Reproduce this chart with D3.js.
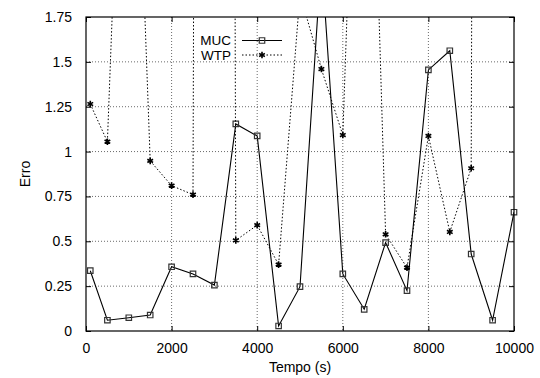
<!DOCTYPE html>
<html>
<head>
<meta charset="utf-8">
<script src="https://cdn.jsdelivr.net/npm/d3@7"></script>
<style>
  body { margin: 0; background: #fff; }
  text { font-family: "Liberation Sans", Arial, sans-serif; font-size: 14px; fill: #000; }
</style>
</head>
<body>
<svg id="chart" width="540" height="378"></svg>
<script>
// dados
var tempo = [100, 500, 1000, 1500, 2000, 2500, 3000, 3500, 4000, 4500, 5000,
             5500, 6000, 6500, 7000, 7500, 8000, 8500, 9000, 9500, 10000];
var erroMUC = [0.336, 0.06, 0.074, 0.089, 0.358, 0.318, 0.256, 1.154, 1.087, 0.028, 0.247,
               2.08, 0.318, 0.121, 0.493, 0.225, 1.455, 1.562, 0.429, 0.06, 0.662];
var erroWTP = [1.265, 1.055, 4.2, 0.948, 0.81, 0.76, 40, 0.505, 0.59, 0.37, 1.88,
               1.46, 1.092, 4.5, 0.539, 0.353, 1.087, 0.552, 0.907, 40, 40];
var xTicks = [0, 2000, 4000, 6000, 8000, 10000];
var yTicks = [0, 0.25, 0.5, 0.75, 1, 1.25, 1.5, 1.75];
var series = [
    { nome: 'MUC', valores: erroMUC, tracejado: null, marca: 'quadrado' },
    { nome: 'WTP', valores: erroWTP, tracejado: '1.5,2', marca: 'estrela' }
];

var margem = { top: 17, right: 26, bottom: 47, left: 86 };
var largura = 540 - margem.left - margem.right,
    altura = 378 - margem.top - margem.bottom;

var svg = d3.select('#chart');
var g = svg.append('g').attr('transform', 'translate(' + margem.left + ',' + margem.top + ')');

// escalas
var x = d3.scaleLinear().domain([0, 10000]).range([0, largura]);
var y = d3.scaleLinear().domain([0, 1.75]).range([altura, 0]);

g.append('clipPath').attr('id', 'recorte')
    .append('rect').attr('width', largura).attr('height', altura);

// grade pontilhada
g.append('g').selectAll('line')
    .data(xTicks.slice(1, -1))
    .enter().append('line')
    .attr('x1', function(d) { return x(d); }).attr('x2', function(d) { return x(d); })
    .attr('y1', 0).attr('y2', altura)
    .attr('stroke', '#444').attr('stroke-width', 0.8).attr('stroke-dasharray', '1,2');
g.append('g').selectAll('line')
    .data(yTicks.slice(1, -1))
    .enter().append('line')
    .attr('x1', 0).attr('x2', largura)
    .attr('y1', function(d) { return y(d); }).attr('y2', function(d) { return y(d); })
    .attr('stroke', '#444').attr('stroke-width', 0.8).attr('stroke-dasharray', '1,2');

// eixos (marcas para dentro)
var eixoX = d3.axisBottom(x).tickValues(xTicks).tickSize(-5).tickPadding(12).tickFormat(d3.format('d'));
var eixoY = d3.axisLeft(y).tickValues(yTicks).tickSize(-5).tickPadding(14)
    .tickFormat(function(d) { return String(d); });
var gx = g.append('g').attr('transform', 'translate(0,' + altura + ')').call(eixoX);
var gy = g.append('g').call(eixoY);
g.append('g').call(d3.axisTop(x).tickValues(xTicks).tickSize(-5).tickFormat(''));
g.append('g').attr('transform', 'translate(' + largura + ',0)')
    .call(d3.axisRight(y).tickValues(yTicks).tickSize(-5).tickFormat(''));
g.selectAll('.domain').remove();
g.selectAll('.tick line').attr('stroke', '#000');
gx.selectAll('text').style('font-size', '14px').style('font-family', 'Liberation Sans, Arial, sans-serif');
gy.selectAll('text').style('font-size', '14px').style('font-family', 'Liberation Sans, Arial, sans-serif');

// linhas
var linha = d3.line()
    .x(function(d) { return x(d[0]); })
    .y(function(d) { return y(d[1]); });

var simbolo = {
    quadrado: d3.symbol().type(d3.symbolSquare).size(30),
    estrela: d3.symbol().type(d3.symbolAsterisk).size(30)
};

series.forEach(function(s) {
    var pontos = tempo.map(function(t, i) { return [t, s.valores[i]]; });
    g.append('path')
        .datum(pontos)
        .attr('clip-path', 'url(#recorte)')
        .attr('fill', 'none')
        .attr('stroke', '#000')
        .attr('stroke-width', s.tracejado ? 1 : 1.1)
        .attr('stroke-dasharray', s.tracejado)
        .attr('d', linha);
    g.append('g').selectAll('path')
        .data(pontos.filter(function(p) { return p[1] <= 1.75; }))
        .enter().append('path')
        .attr('transform', function(d) { return 'translate(' + x(d[0]) + ',' + y(d[1]) + ')'; })
        .attr('d', simbolo[s.marca])
        .attr('fill', s.marca === 'quadrado' ? 'none' : '#000')
        .attr('stroke', s.marca === 'quadrado' ? '#333' : '#000')
        .attr('stroke-width', s.marca === 'quadrado' ? 1.2 : 1.6);
});

// legenda
var legenda = g.append('g');
series.forEach(function(s, i) {
    var ly = 23.5 + i * 14.5;
    legenda.append('text').attr('x', 145).attr('y', ly + 4.5)
        .attr('text-anchor', 'end').style('font-size', '13.5px').text(s.nome);
    legenda.append('line').attr('x1', 156).attr('x2', 196).attr('y1', ly).attr('y2', ly)
        .attr('stroke', '#000').attr('stroke-width', 1).attr('stroke-dasharray', s.tracejado);
    legenda.append('path').attr('transform', 'translate(176,' + ly + ')')
        .attr('d', simbolo[s.marca])
        .attr('fill', s.marca === 'quadrado' ? 'none' : '#000')
        .attr('stroke', s.marca === 'quadrado' ? '#333' : '#000')
        .attr('stroke-width', s.marca === 'quadrado' ? 1.2 : 1.6);
});

// moldura
g.append('rect').attr('width', largura).attr('height', altura)
    .attr('fill', 'none').attr('stroke', '#000').attr('stroke-width', 1.2);

// titulos dos eixos
svg.append('text').attr('x', margem.left + largura / 2).attr('y', 372)
    .attr('text-anchor', 'middle').text('Tempo (s)');
svg.append('text').attr('transform', 'translate(30,' + (margem.top + altura / 2) + ') rotate(-90)')
    .attr('text-anchor', 'middle').text('Erro');
</script>
</body>
</html>
